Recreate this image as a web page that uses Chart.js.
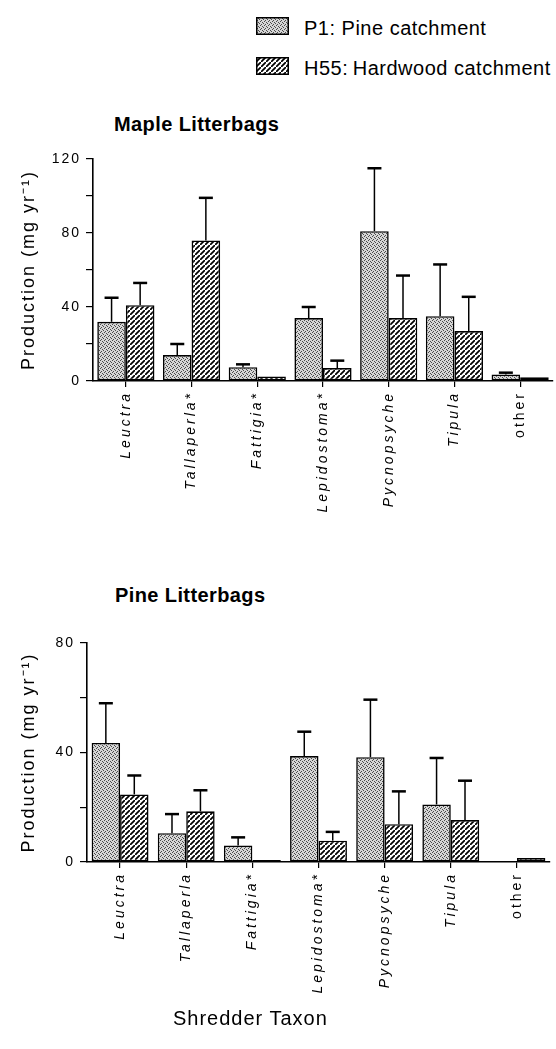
<!DOCTYPE html>
<html><head><meta charset="utf-8">
<script src="https://cdn.jsdelivr.net/npm/chart.js@4/dist/chart.umd.min.js"></script>
<style>
html,body{margin:0;padding:0;background:#fff;}
body{width:556px;height:1049px;position:relative;overflow:hidden;font-family:"Liberation Sans",Arial,sans-serif;color:#000;}
.abs{position:absolute;white-space:nowrap;line-height:1;}
.sw{position:absolute;}
.chart{position:absolute;left:0;}
.title{font-weight:bold;font-size:20px;letter-spacing:0.4px;}
.leg{font-size:20px;letter-spacing:0.5px;}
</style></head><body>
<canvas id="sw1" class="sw" width="33" height="18" style="left:256px;top:17px"></canvas>
<div class="abs leg" style="left:304px;top:18px">P1: Pine catchment</div>
<canvas id="sw2" class="sw" width="33" height="18" style="left:256px;top:57px"></canvas>
<div class="abs leg" style="left:304px;top:58px">H55:&thinsp;Hardwood catchment</div>
<div class="abs title" style="left:114px;top:114px">Maple Litterbags</div>
<canvas id="c1" class="chart" width="556" height="400" style="top:140px"></canvas>
<div class="abs title" style="left:115px;top:585px">Pine Litterbags</div>
<canvas id="c2" class="chart" width="556" height="420" style="top:600px"></canvas>
<div class="abs" style="left:173px;top:1008px;font-size:20px;letter-spacing:1px">Shredder Taxon</div>
<script>
// ---- data ----
const taxa = ['Leuctra','Tallaperla','Fattigia','Lepidostoma','Pycnopsyche','Tipula','other'];
const mapleSignif = [false,true,true,true,false,false,false];
const pineSignif  = [false,false,true,true,false,false,false];
const seriesNames = ['P1: Pine catchment','H55: Hardwood catchment'];

const mapleP1     = [32, 14, 7.5, 34, 81, 35, 3.5];
const mapleP1Err  = [45, 20, 9, 40, 115, 63, 4.5];
const mapleH55    = [41, 76, 2.5, 7, 34, 27, 2];
const mapleH55Err = [53, 99, null, 11, 57, 45.5, null];

const pineP1      = [43.5, 10.5, 6, 38.7, 38.3, 21, 0.3];
const pineP1Err   = [58, 17.5, 9, 47.6, 59.3, 38, null];
const pineH55     = [24.7, 18.5, 0.7, 7.8, 13.8, 15.3, 1.5];
const pineH55Err  = [31.6, 26.2, null, 11, 25.8, 29.7, null];

const mapleYLabels = [0, 40, 80, 120];
const pineYLabels  = [0, 40, 80];
const yTitle = 'Production (mg yr\u207B\u00B9)';

// ---- styling helpers ----
const FONT = "'Liberation Sans', Arial, sans-serif";
function stipplePattern(){
  const c = document.createElement('canvas'); c.width = 4; c.height = 4;
  const g = c.getContext('2d');
  g.fillStyle = '#d6d6d6'; g.fillRect(0,0,4,4);
  g.fillStyle = '#4a4a4a';
  g.fillRect(0,0,1,1); g.fillRect(2,1,1,1); g.fillRect(1,3,1,1); g.fillRect(3,2,1,1);
  return g.createPattern(c,'repeat');
}
function hatchPattern(){
  const s = 5;
  const c = document.createElement('canvas'); c.width = s; c.height = s;
  const g = c.getContext('2d');
  g.fillStyle = '#fff'; g.fillRect(0,0,s,s);
  g.strokeStyle = '#000'; g.lineWidth = 1.7;
  g.beginPath();
  g.moveTo(-1,s+1); g.lineTo(s+1,-1);
  g.moveTo(-s-1,1); g.lineTo(1,-s-1);
  g.moveTo(s-1,2*s+1); g.lineTo(2*s+1,s-1);
  g.stroke();
  return g.createPattern(c,'repeat');
}
const STIPPLE = stipplePattern();
const HATCH = hatchPattern();

function drawSwatch(id, pat){
  const c = document.getElementById(id), g = c.getContext('2d');
  g.fillStyle = pat; g.fillRect(0,0,c.width,c.height);
  g.strokeStyle = '#000'; g.lineWidth = 1.5; g.strokeRect(0.75,0.75,c.width-1.5,c.height-1.5);
}
drawSwatch('sw1', STIPPLE);
drawSwatch('sw2', HATCH);

const spacingPlugin = {
  id:'spacing',
  afterLayout(chart){
    const sx = chart.scales.x;
    if (sx && !sx._spaced){
      const orig = sx.drawLabels;
      sx.drawLabels = function(area){
        const c = this.ctx, prev = c.letterSpacing;
        c.letterSpacing = '3px';
        orig.call(this, area);
        c.letterSpacing = prev;
      };
      sx._spaced = true;
    }
  },
  beforeDraw(chart){ chart.ctx.letterSpacing = '2px'; },
  afterDraw(chart){ chart.ctx.letterSpacing = '0px'; }
};
const errorBarPlugin = {
  id:'errbars',
  afterDatasetsDraw(chart){
    const ctx = chart.ctx, y = chart.scales.y;
    chart.data.datasets.forEach((ds, i) => {
      const meta = chart.getDatasetMeta(i);
      meta.data.forEach((bar, j) => {
        const e = ds.errors[j];
        if (e == null || e <= ds.data[j]) return;
        const ye = y.getPixelForValue(e);
        ctx.save();
        ctx.strokeStyle = '#000';
        ctx.lineWidth = 1.5;
        ctx.beginPath(); ctx.moveTo(bar.x, bar.y); ctx.lineTo(bar.x, ye); ctx.stroke();
        ctx.lineWidth = 2.5;
        ctx.beginPath(); ctx.moveTo(bar.x-7, ye); ctx.lineTo(bar.x+7, ye); ctx.stroke();
        ctx.restore();
      });
    });
  }
};

function makeChart(id, labels, p1, p1e, h55, h55e, yMax, yLabels, geom){
  return new Chart(document.getElementById(id), {
    type:'bar',
    data:{
      labels: labels,
      datasets:[
        {label:seriesNames[0], data:p1, errors:p1e, backgroundColor:STIPPLE, borderColor:'#000', borderWidth:1.6, borderSkipped:false, categoryPercentage:geom.cat, barPercentage:1},
        {label:seriesNames[1], data:h55, errors:h55e, backgroundColor:HATCH, borderColor:'#000', borderWidth:1.6, borderSkipped:false, categoryPercentage:geom.cat, barPercentage:1}
      ]
    },
    options:{
      responsive:false, animation:false, devicePixelRatio:1,
      layout:{padding:{left:0, right:geom.padRight, top:geom.padTop, bottom:0}},
      plugins:{legend:{display:false}, tooltip:{enabled:false}, title:{display:false}},
      scales:{
        x:{
          grid:{display:true, drawOnChartArea:false, drawTicks:true, tickLength:6, color:'#000', lineWidth:1.2, offset:false},
          border:{display:true, color:'#000', width:1.6},
          ticks:{minRotation:90, maxRotation:90, autoSkip:false, padding:4, color:'#000',
            font:(c)=>({family:FONT, size:14, style:(c.index===6?'normal':'italic')})},
          afterFit:(s)=>{ s.height = geom.xH; s.paddingLeft = 0; s.paddingRight = 0; }
        },
        y:{
          min:0, max:yMax,
          ticks:{stepSize:20, padding:5, color:'#000', font:{family:FONT, size:14},
            callback:(v)=> yLabels.includes(v) ? String(v) : ''},
          grid:{drawOnChartArea:false, tickLength:7, color:'#000', lineWidth:1.2},
          border:{display:true, color:'#000', width:1.6},
          title:{display:true, text:yTitle, color:'#000', font:{family:FONT, size:18}, padding:{top:18, bottom:0}},
          afterFit:(s)=>{ s.width = geom.yW; }
        }
      }
    },
    plugins:[spacingPlugin, errorBarPlugin]
  });
}

const mapleLabels = taxa.map((t,i)=> t + (mapleSignif[i] ? '*' : ''));
const pineLabels  = taxa.map((t,i)=> t + (pineSignif[i] ? '*' : ''));

makeChart('c1', mapleLabels, mapleP1, mapleP1Err, mapleH55, mapleH55Err, 120, mapleYLabels,
  {padTop:19, padRight:3, xH:159, yW:93, cat:0.87});
makeChart('c2', pineLabels, pineP1, pineP1Err, pineH55, pineH55Err, 80, pineYLabels,
  {padTop:43, padRight:6, xH:158, yW:87, cat:0.86});
</script>
</body></html>
